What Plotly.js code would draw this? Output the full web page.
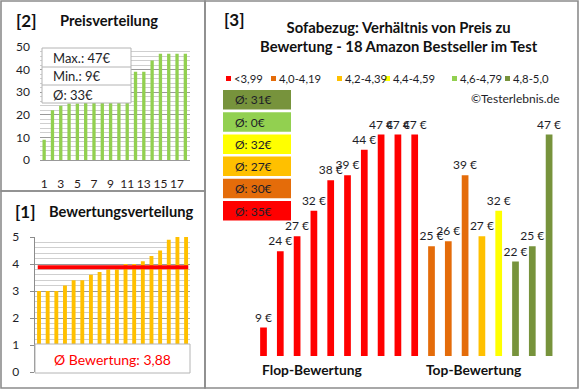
<!DOCTYPE html>
<html><head><meta charset="utf-8">
<script src="https://cdn.plot.ly/plotly-3.0.1.min.js"></script>
<style>html,body{margin:0;padding:0;background:#fff}#chart{width:580px;height:390px}</style>
</head><body><div id="chart"></div>
<script>
// ---------- DATA ----------
// [2] Preisverteilung (sorted prices, €)
const pricesSorted = [9,22,24,25,25,26,27,27,32,32,38,39,39,44,47,47,47,47];
const priceXTicks = [1,3,5,7,9,11,13,15,17];
// [1] Bewertungsverteilung (sorted ratings)
const ratingsSorted = [3.0,3.0,3.0,3.2,3.4,3.4,3.6,3.7,3.8,3.8,4.0,4.0,4.1,4.3,4.5,4.9,5.0,5.0];
const meanRating = 3.88;
// [3] price vs rating groups
const groupLabels = ["<3,99","4,0-4,19","4,2-4,39","4,4-4,59","4,6-4,79","4,8-5,0"];
const groupColors = ["#FF0000","#E46C0A","#FFC000","#FFFF00","#92D050","#77933C"];
const groupPrices = [
  [9,24,27,32,38,39,44,47,47,47],
  [25,26,39],
  [27],
  [32],
  [],
  [22,25,47]
];

// ---------- LAYOUT HELPERS ----------
const W = 580, H = 390;
const px = x => x / W, py = y => 1 - y / H;
const FONT = 'Lato, "Open Sans", "DejaVu Sans", sans-serif';
const txtCol = '#1e1e28';

const idx = pricesSorted.map((_, i) => i + 1);
const traces = [];
traces.push({type:'bar', x: idx, y: pricesSorted, xaxis:'x', yaxis:'y',
  marker:{color:'#92D050'}, width:0.4, hoverinfo:'skip'});
traces.push({type:'bar', x: ratingsSorted.map((_, i) => i + 1), y: ratingsSorted, xaxis:'x2', yaxis:'y2',
  marker:{color:'#FFC000'}, width:0.45, hoverinfo:'skip'});

let pos = 0;
const groupMeans = [];
groupPrices.forEach((vals, g) => {
  const xs = vals.map((_, i) => pos + i);
  pos += vals.length;
  const m = vals.length ? Math.round(vals.reduce((a, b) => a + b, 0) / vals.length) : 0;
  groupMeans.push(m);
  traces.push({type:'bar', x: xs, y: vals, xaxis:'x3', yaxis:'y3', name: groupLabels[g],
    marker:{color: groupColors[g]}, width:0.4,
    texttemplate:'%{y} €', textposition:'outside', constraintext:'none', cliponaxis:false,
    textfont:{family:FONT, size:12, color:txtCol}, hoverinfo:'skip'});
});

const maxP = Math.max(...pricesSorted), minP = Math.min(...pricesSorted);
const avgP = Math.round(pricesSorted.reduce((a, b) => a + b, 0) / pricesSorted.length);

const shapes = [];
const annotations = [];
const border = '#8c8c8c';
// panel borders
shapes.push({type:'rect', xref:'paper', yref:'paper', x0:px(1), x1:px(205), y0:py(1), y1:py(191), line:{color:border, width:1.6}});
shapes.push({type:'rect', xref:'paper', yref:'paper', x0:px(1), x1:px(205), y0:py(191), y1:py(388), line:{color:border, width:1.6}});
shapes.push({type:'rect', xref:'paper', yref:'paper', x0:px(205), x1:px(578), y0:py(1), y1:py(388), line:{color:border, width:1.6}});

// panel 2 info box
shapes.push({type:'rect', xref:'paper', yref:'paper', layer:'above', x0:px(42), x1:px(131), y0:py(48), y1:py(103), fillcolor:'#fff', line:{color:'#b4b4b4', width:1}});
shapes.push({type:'line', xref:'paper', yref:'paper', layer:'above', x0:px(42), x1:px(131), y0:py(67), y1:py(67), line:{color:'#b4b4b4', width:1}});
shapes.push({type:'line', xref:'paper', yref:'paper', layer:'above', x0:px(42), x1:px(131), y0:py(85), y1:py(85), line:{color:'#b4b4b4', width:1}});
[['Max.: ' + maxP + '€', 58], ['Min.: ' + minP + '€', 76.5], ['Ø: ' + avgP + '€', 94.5]].forEach(([t, y]) => {
  annotations.push({xref:'paper', yref:'paper', x:px(51), y:py(y), xanchor:'left', yanchor:'middle', showarrow:false, text:t, font:{family:FONT, size:13, color:txtCol}});
});

// panel 1 mean line and box
shapes.push({type:'line', xref:'x2', yref:'y2', layer:'above', x0:0.85, x1:18.25, y0:meanRating, y1:meanRating, line:{color:'#FF0000', width:4}});
shapes.push({type:'rect', xref:'paper', yref:'paper', layer:'above', x0:px(35), x1:px(190), y0:py(344), y1:py(373), fillcolor:'#fff', line:{color:'#b4b4b4', width:1}});
annotations.push({xref:'paper', yref:'paper', x:px(112), y:py(359), xanchor:'center', yanchor:'middle', showarrow:false,
  text:'Ø Bewertung: ' + meanRating.toFixed(2).replace('.', ','), font:{family:FONT, size:14, color:'#FF0000'}});

// panel titles
const bigT = {family:FONT, size:17, color:'#111'};
const midT = {family:FONT, size:14.7, color:'#111'};
annotations.push({xref:'paper', yref:'paper', x:px(14), y:py(20), xanchor:'left', yanchor:'middle', showarrow:false, text:'<b>[2]</b>', font:bigT});
annotations.push({xref:'paper', yref:'paper', x:px(58), y:py(20), xanchor:'left', yanchor:'middle', showarrow:false, text:'<b>Preisverteilung</b>', font:midT});
annotations.push({xref:'paper', yref:'paper', x:px(13), y:py(211), xanchor:'left', yanchor:'middle', showarrow:false, text:'<b>[1]</b>', font:bigT});
annotations.push({xref:'paper', yref:'paper', x:px(47), y:py(211), xanchor:'left', yanchor:'middle', showarrow:false, text:'<b>Bewertungsverteilung</b>', font:midT});
annotations.push({xref:'paper', yref:'paper', x:px(222), y:py(19), xanchor:'left', yanchor:'middle', showarrow:false, text:'<b>[3]</b>', font:bigT});
annotations.push({xref:'paper', yref:'paper', x:px(399), y:py(36), xanchor:'center', yanchor:'middle', showarrow:false,
  text:'<b>Sofabezug: Verhältnis von Preis zu<br>Bewertung - 18 Amazon Bestseller im Test</b>', font:{family:FONT, size:14.8, color:'#111'}});

// legend (manual)
const legSquareX = [226, 271, 337, 385, 452, 505];
groupLabels.forEach((lab, g) => {
  const x = legSquareX[g];
  shapes.push({type:'rect', xref:'paper', yref:'paper', x0:px(x), x1:px(x + 5), y0:py(76), y1:py(81), fillcolor:groupColors[g], line:{width:0}});
  annotations.push({xref:'paper', yref:'paper', x:px(x + 6), y:py(78.5), xanchor:'left', yanchor:'middle', showarrow:false,
    text:lab.replace('<', '&lt;'), font:{family:FONT, size:11.3, color:txtCol}});
});
annotations.push({xref:'paper', yref:'paper', x:px(562), y:py(98), xanchor:'right', yanchor:'middle', showarrow:false, text:'©Testerlebnis.de', font:{family:FONT, size:12, color:txtCol}});

// mean boxes (top = best group)
for (let k = 0; k < groupLabels.length; k++) {
  const g = groupLabels.length - 1 - k;
  const top = 90 + k * 22.2;
  shapes.push({type:'rect', xref:'paper', yref:'paper', x0:px(223), x1:px(291), y0:py(top), y1:py(top + 19.5), fillcolor:groupColors[g], line:{width:0}});
  annotations.push({xref:'paper', yref:'paper', x:px(233), y:py(top + 10), xanchor:'left', yanchor:'middle', showarrow:false,
    text:'Ø: ' + groupMeans[g] + '€', font:{family:FONT, size:12, color:txtCol}});
}

// bottom labels
const botT = {family:FONT, size:13.8, color:'#111'};
annotations.push({xref:'paper', yref:'paper', x:px(312), y:py(369), xanchor:'center', yanchor:'middle', showarrow:false, text:'<b>Flop-Bewertung</b>', font:botT});
annotations.push({xref:'paper', yref:'paper', x:px(474), y:py(369), xanchor:'center', yanchor:'middle', showarrow:false, text:'<b>Top-Bewertung</b>', font:botT});

const layout = {
  width:W, height:H, margin:{l:0, r:0, t:0, b:0},
  paper_bgcolor:'#fff', plot_bgcolor:'rgba(0,0,0,0)', showlegend:false, barmode:'overlay',
  font:{family:FONT, size:12, color:txtCol},
  xaxis:{domain:[px(40), px(189.5)], range:[0.5, 18.5], tickvals:priceXTicks, ticks:'', ticklabelstandoff:13,
    showgrid:false, zeroline:false, showline:true, linecolor:'#999', anchor:'y', fixedrange:true,
    tickfont:{family:FONT, size:12, color:'#2a1a1a'}},
  yaxis:{domain:[py(160), py(47)], range:[0, 50], tick0:0, dtick:10, showgrid:true, gridcolor:'#9a9a9a', gridwidth:1,
    minor:{dtick:2, showgrid:true, gridcolor:'#cfcfcf'}, zeroline:false, ticks:'', ticklabelstandoff:9, anchor:'x', fixedrange:true,
    tickfont:{family:FONT, size:12, color:txtCol}},
  xaxis2:{domain:[px(34.7), px(190.4)], range:[0.5, 18.5], showticklabels:false, ticks:'', showgrid:false, zeroline:false,
    showline:false, anchor:'y2', fixedrange:true},
  yaxis2:{domain:[py(372), py(237)], range:[0, 5], tick0:0, dtick:1, showgrid:true, gridcolor:'#9a9a9a',
    minor:{dtick:0.2, showgrid:true, gridcolor:'#cfcfcf'}, zeroline:false, showline:true, linecolor:'#8c8c8c',
    ticks:'outside', ticklen:4, tickcolor:'#8c8c8c', ticklabelstandoff:8, anchor:'x2', fixedrange:true,
    tickfont:{family:FONT, size:12, color:txtCol}},
  xaxis3:{domain:[px(255.1), px(557.5)], range:[-0.5, 17.5], visible:false, anchor:'y3', fixedrange:true},
  yaxis3:{domain:[py(356), py(100)], range:[3.4, 53.8], visible:false, anchor:'x3', fixedrange:true},
  shapes:shapes, annotations:annotations
};

Plotly.newPlot('chart', traces, layout, {staticPlot:true, displayModeBar:false});
</script>
</body></html>
